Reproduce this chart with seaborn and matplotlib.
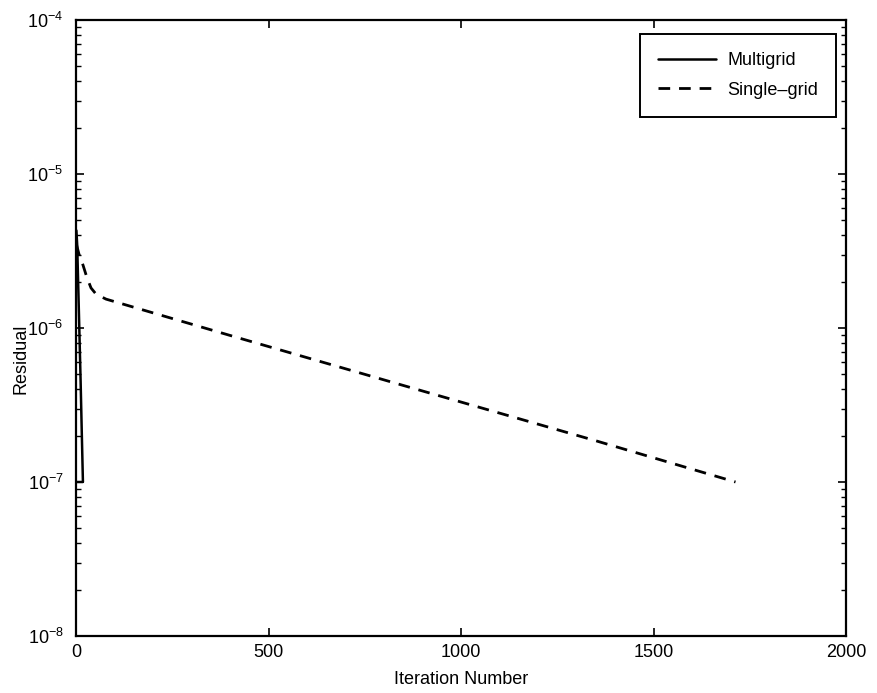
import numpy as np
import pandas as pd
import matplotlib
matplotlib.use("Agg")
import matplotlib.pyplot as plt
import matplotlib.ticker as mticker
import seaborn as sns

# ---- data ----
mg_iter = [1, 3, 6, 9, 12, 15, 18, 1]
mg_res = [4.3e-6, 3.5e-6, 1.8e-6, 9.0e-7, 4.5e-7, 2.1e-7, 1.0e-7, 1.0e-7]

sg_iter = [1, 8, 18, 28, 39, 52, 78, 400, 841, 1351, 1713]
sg_res = [3.5e-6, 3.0e-6, 2.57e-6, 2.14e-6, 1.82e-6, 1.66e-6, 1.54e-6,
          8.95e-7, 4.3e-7, 1.85e-7, 1.0e-7]

x_ticks = [0, 500, 1000, 1500, 2000]
y_ticks = [1e-8, 1e-7, 1e-6, 1e-5, 1e-4]
series_names = ["Multigrid", "Single\u2013grid"]

sns.set_style("ticks")
plt.rcParams["font.family"] = ["Liberation Sans", "DejaVu Sans"]
plt.rcParams["text.color"] = "black"
plt.rcParams["axes.labelcolor"] = "black"
plt.rcParams["mathtext.fontset"] = "custom"
plt.rcParams["mathtext.rm"] = "Liberation Sans"
plt.rcParams["mathtext.it"] = "Liberation Sans"
plt.rcParams["mathtext.default"] = "rm"

FS = 13
W, H = 877, 693
fig = plt.figure(figsize=(W / 100, H / 100), dpi=100)
left, right, top, bottom = 76, 846, 20, 636
ax = fig.add_axes([left / W, 1 - bottom / H, (right - left) / W, (bottom - top) / H])

mg = pd.DataFrame({"iter": mg_iter, "res": mg_res})
sg = pd.DataFrame({"iter": sg_iter, "res": sg_res})

sns.lineplot(data=mg, x="iter", y="res", ax=ax, color="black", lw=1.8,
             sort=False, estimator=None, label=series_names[0])
sns.lineplot(data=sg, x="iter", y="res", ax=ax, color="black", lw=2.0,
             sort=False, estimator=None, label=series_names[1],
             dashes=False, linestyle=(0, (4.2, 3.2)))

ax.set_yscale("log")
ax.set_xlim(0, 2000)
ax.set_ylim(1e-8, 1e-4)
ax.set_xticks(x_ticks)
ax.set_xticklabels([str(t) for t in x_ticks])
ax.set_yticks(y_ticks)
ax.set_yticklabels([r"$10^{%d}$" % int(np.log10(t)) for t in y_ticks])
ax.yaxis.set_minor_locator(mticker.LogLocator(base=10, subs=np.arange(2, 10), numticks=20))
ax.yaxis.set_minor_formatter(mticker.NullFormatter())
ax.xaxis.set_minor_locator(mticker.NullLocator())

ax.tick_params(axis="both", which="both", direction="in", top=True, right=True,
               labelsize=FS, colors="black")
ax.tick_params(axis="x", which="major", pad=6)
ax.tick_params(axis="y", which="major", pad=9)
ax.tick_params(which="major", length=6, width=1.2)
ax.tick_params(which="minor", length=3.5, width=1.0)
for s in ax.spines.values():
    s.set_visible(True)
    s.set_linewidth(1.6)
    s.set_color("black")

ax.set_xlabel("Iteration Number", fontsize=FS, color="black", labelpad=7)
ax.set_ylabel("Residual", fontsize=FS, color="black")
ax.yaxis.set_label_coords(-0.060, 0.45)

leg = ax.legend(loc="upper right", bbox_to_anchor=(1 - 10 / 770, 1 - 14 / 616),
                prop={"size": FS}, frameon=True, fancybox=False,
                framealpha=1, edgecolor="black", handlelength=3.2, borderpad=1.0,
                labelspacing=0.7, handletextpad=0.6, borderaxespad=0)
leg.get_frame().set_linewidth(1.4)
for t in leg.get_texts():
    t.set_color("black")

fig.savefig("out.png", dpi=100)
